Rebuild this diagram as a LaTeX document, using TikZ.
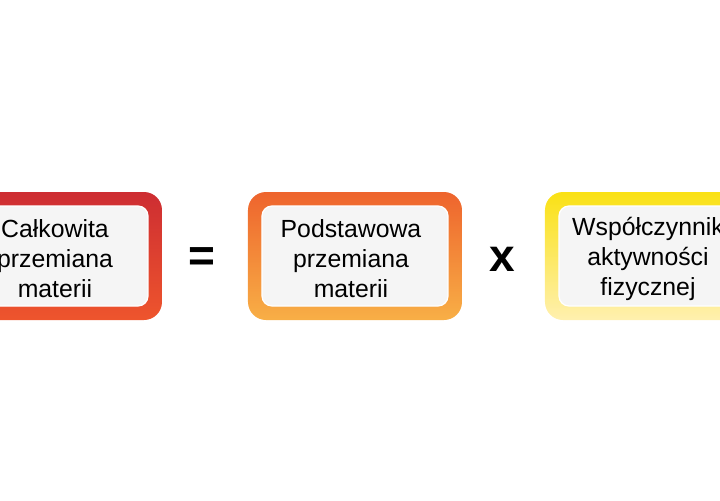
\documentclass[tikz,border=0pt]{standalone}
\usepackage{fontspec}
\setmainfont{Liberation Sans}
\usetikzlibrary{positioning}
\definecolor{redtop}{RGB}{205,45,50}
\definecolor{redbot}{RGB}{238,85,45}
\definecolor{orangetop}{RGB}{238,100,45}
\definecolor{orangebot}{RGB}{248,175,70}
\definecolor{yellowtop}{RGB}{250,225,20}
\definecolor{yellowbot}{RGB}{255,240,175}
\tikzset{
  outerbox/.style={minimum width=107pt, minimum height=64pt, rounded corners=9pt, inner sep=0pt},
  innerbox/.style={minimum width=93pt, minimum height=50pt, rounded corners=5pt, fill=gray!8,
    draw=white, line width=0.6pt},
  boxtext/.style={align=center, font=\fontsize{12.4}{15}\selectfont},
  opsign/.style={font=\fontsize{23}{23}\selectfont\bfseries}
}
\begin{document}
\begin{tikzpicture}
  \clip (0,0) rectangle (360pt,-250pt);
  \useasboundingbox (0,0) rectangle (360pt,-250pt);
  % boxes
  \node[outerbox, top color=redtop, bottom color=redbot] (total) at (27.5pt,-128pt) {};
  \node[innerbox] (totalin) at (total) {};
  \node[boxtext] (totaltxt) at ([yshift=-1.5pt]totalin.center) {Całkowita\\przemiana\\materii};
  \node[outerbox, top color=orangetop, bottom color=orangebot] (basal) at (177.5pt,-128pt) {};
  \node[innerbox] (basalin) at (basal) {};
  \node[boxtext] (basaltxt) at ([xshift=-2pt,yshift=-1.5pt]basalin.center) {Podstawowa\\przemiana\\materii};
  \node[outerbox, top color=yellowtop, bottom color=yellowbot] (activity) at (326pt,-128pt) {};
  \node[innerbox] (activityin) at (activity) {};
  \node[boxtext] (activitytxt) at ([xshift=-2pt,yshift=-1.5pt]activityin.center) {Współczynnik\\aktywności\\fizycznej};
  % signs
  \node[opsign] (eq) at (101pt,-130pt) {=};
  \node[opsign] (times) at (251pt,-129.5pt) {x};
\end{tikzpicture}
\end{document}
